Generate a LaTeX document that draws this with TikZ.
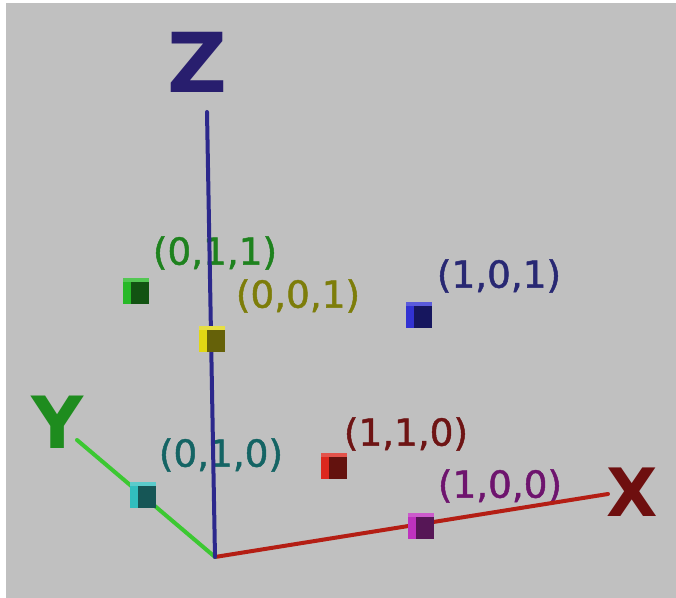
\documentclass[tikz,border=0pt]{standalone}
\usepackage{fontspec}
\usepackage{tikz}
\usetikzlibrary{positioning,calc}
\newfontfamily\ptfont{DejaVu Sans}[FakeBold=1.2]
\newfontfamily\axfont{DejaVu Sans}
\definecolor{bggray}{RGB}{192,192,192}
\definecolor{zaxcol}{RGB}{44,40,140}
\definecolor{yaxcol}{RGB}{60,200,50}
\definecolor{xaxcol}{RGB}{180,30,20}
\definecolor{zletter}{RGB}{40,30,110}
\definecolor{yletter}{RGB}{30,140,30}
\definecolor{xletter}{RGB}{110,15,15}
\definecolor{lgreen}{RGB}{30,130,30}
\definecolor{lolive}{RGB}{125,125,10}
\definecolor{lnavy}{RGB}{40,40,115}
\definecolor{ldred}{RGB}{110,20,20}
\definecolor{lteal}{RGB}{20,100,100}
\definecolor{lpurple}{RGB}{110,20,110}
\definecolor{ccyan}{RGB}{50,190,190}
\definecolor{cmagenta}{RGB}{190,50,190}
\definecolor{cred}{RGB}{220,40,30}
\definecolor{cyellow}{RGB}{225,215,20}
\definecolor{cgreen}{RGB}{40,185,40}
\definecolor{cblue}{RGB}{50,50,210}
\tikzset{
  axisline/.style={line width=3pt, line cap=round},
  cube/.style={minimum size=20pt, inner sep=0pt, fill=#1!45!black,
    path picture={
      \fill[#1] (path picture bounding box.north west)
        rectangle ([xshift=6pt]path picture bounding box.south west);
      \fill[#1!80!white] (path picture bounding box.north west)
        rectangle ([yshift=-3pt]path picture bounding box.north east);
    }},
  ptlabel/.style={font=\ptfont\fontsize{28}{28}\selectfont, inner sep=0pt},
  axlabel/.style={font=\axfont\fontsize{62}{62}\selectfont\bfseries, inner sep=0pt}
}
\begin{document}
\begin{tikzpicture}[x=0.75pt,y=-0.75pt]
  % frame
  \fill[white] (0,0) rectangle (676,598);
  \fill[bggray] (6,3) rectangle (676,598);
  \useasboundingbox (0,0) rectangle (676,598);

  % point labels (axes run over them)
  \node[ptlabel,lgreen]  (l011) at (215,253) {(0,1,1)};
  \node[ptlabel,lolive]  (l001) at (298,296) {(0,0,1)};
  \node[ptlabel,lnavy]   (l101) at (499,276) {(1,0,1)};
  \node[ptlabel,ldred]   (l110) at (406,434) {(1,1,0)};
  \node[ptlabel,lteal]   (l010) at (221,455) {(0,1,0)};
  \node[ptlabel,lpurple] (l100) at (500,486) {(1,0,0)};

  % axes
  \coordinate (o) at (215,557);
  \coordinate (xend) at (608,494);
  \coordinate (yend) at (77,440);
  \coordinate (zend) at (207,112);
  \draw[axisline,xaxcol] (o) -- (xend);
  \draw[axisline,yaxcol] (o) -- (yend);
  \draw[axisline,zaxcol] (o) -- (zend);
  \node[axlabel,xletter,font=\axfont\fontsize{50}{50}\selectfont\bfseries] (xlab) at (632,492) {X};
  \node[axlabel,yletter,font=\axfont\fontsize{54}{54}\selectfont\bfseries] (ylab) at (58,422) {Y};
  \node[axlabel,zletter] (zlab) at (197,62) {Z};

  % unit points
  \node[cube=ccyan]    (c010) at (143,495) {};
  \node[cube=cmagenta] (c100) at (421,526) {};
  \node[cube=cred]     (c110) at (334,466) {};
  \node[cube=cyellow]  (c001) at (212,339) {};
  \node[cube=cgreen]   (c011) at (136,291) {};
  \node[cube=cblue]    (c101) at (419,315) {};
\end{tikzpicture}
\end{document}
